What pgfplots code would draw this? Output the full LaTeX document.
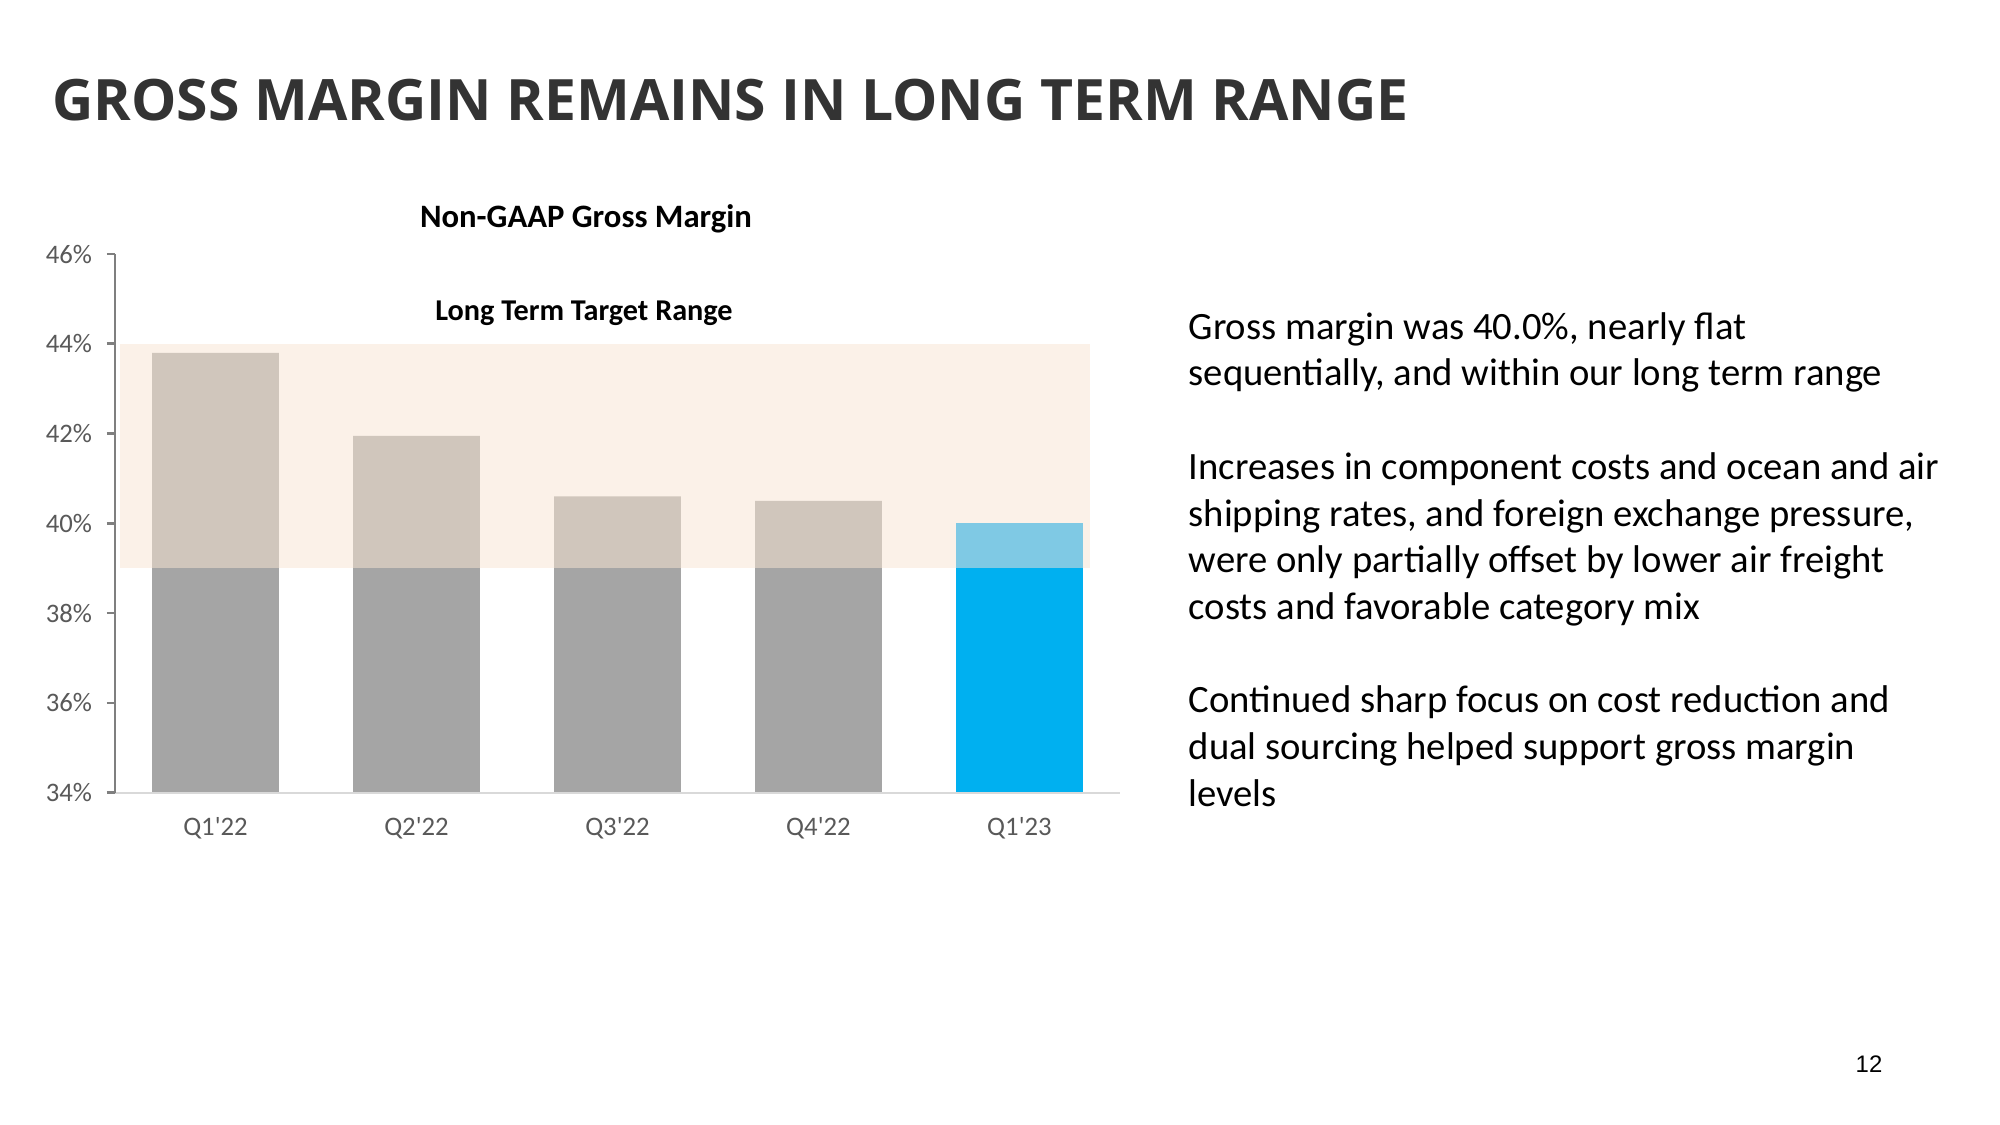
\documentclass[border=0pt]{standalone}
\usepackage{fontspec}
\setmainfont{Carlito}
\newfontfamily\titlefont{Open Sans}
\newfontfamily\arialfont{Liberation Sans}
\usepackage{pgfplots}
\pgfplotsset{compat=1.18}
\definecolor{band}{HTML}{FBF1E8}
\definecolor{tanbar}{HTML}{D0C6BC}
\definecolor{graybar}{HTML}{A5A5A5}
\definecolor{bluebar}{HTML}{00B0F0}
\definecolor{lbluebar}{HTML}{7FC9E4}
\definecolor{yaxis}{HTML}{7F7F7F}
\definecolor{xaxis}{HTML}{D9D9D9}
\definecolor{ticklab}{HTML}{595959}
\definecolor{titlegray}{HTML}{333333}
\begin{document}
\begin{tikzpicture}
\begin{scope}[x=0.1mm,y=-0.1mm]
\fill[white] (0,0) rectangle (2000,1125);
\node[anchor=base west, inner sep=0, text=titlegray, font=\titlefont\bfseries\fontsize{16.24}{20}\selectfont] at (51.7,121) {GROSS MARGIN REMAINS IN LONG TERM RANGE};
\node[anchor=base, inner sep=0, font=\bfseries\fontsize{9.3}{11}\selectfont] at (586,227.3) {Non-GAAP Gross Margin};
\node[anchor=base, inner sep=0, font=\bfseries\fontsize{8.6}{10}\selectfont] at (584,321) {Long Term Target Range};
\node[anchor=base west, inner sep=0, font=\fontsize{11}{13}\selectfont] at (1188,339.3) {Gross margin was 40.0\%, nearly flat};
\node[anchor=base west, inner sep=0, font=\fontsize{11}{13}\selectfont] at (1188,386.0) {sequentially, and within our long term range};
\node[anchor=base west, inner sep=0, font=\fontsize{11}{13}\selectfont] at (1188,479.4) {Increases in component costs and ocean and air};
\node[anchor=base west, inner sep=0, font=\fontsize{11}{13}\selectfont] at (1188,526.1) {shipping rates, and foreign exchange pressure,};
\node[anchor=base west, inner sep=0, font=\fontsize{11}{13}\selectfont] at (1188,572.8) {were only partially offset by lower air freight};
\node[anchor=base west, inner sep=0, font=\fontsize{11}{13}\selectfont] at (1188,619.5) {costs and favorable category mix};
\node[anchor=base west, inner sep=0, font=\fontsize{11}{13}\selectfont] at (1188,712.9) {Continued sharp focus on cost reduction and};
\node[anchor=base west, inner sep=0, font=\fontsize{11}{13}\selectfont] at (1188,759.6) {dual sourcing helped support gross margin};
\node[anchor=base west, inner sep=0, font=\fontsize{11}{13}\selectfont] at (1188,806.3) {levels};
\node[anchor=base east, inner sep=0, font=\arialfont\fontsize{6.8}{8}\selectfont] at (1883,1072) {12};
\end{scope}
\begin{axis}[
  at={(11.5mm,-79.27mm)}, anchor=south west,
  scale only axis, width=100.5mm, height=53.87mm,
  xmin=-0.5, xmax=4.5, ymin=34, ymax=46,
  axis x line*=bottom, axis y line*=left,
  x axis line style={draw=xaxis, line width=0.2mm},
  y axis line style={draw=yaxis, line width=0.27mm},
  xtick={0,1,2,3,4}, xticklabels={Q1\textquotesingle22,Q2\textquotesingle22,Q3\textquotesingle22,Q4\textquotesingle22,Q1\textquotesingle23},
  ytick={34,36,38,40,42,44,46}, yticklabels={34\%,36\%,38\%,40\%,42\%,44\%,46\%},
  tick align=outside,
  major tick length=0.8mm,
  ytick style={draw=yaxis, line width=0.27mm},
  xtick style={draw=none},
  tick label style={text=ticklab},
  yticklabel style={font=\fontsize{7.6}{9}\selectfont, xshift=-0.25mm},
  xticklabel style={font=\fontsize{7.6}{9}\selectfont, yshift=-0.4mm},
  axis on top,
]
\addplot[fill=band, draw=none] coordinates {(-0.475,39) (4.35,39) (4.35,44) (-0.475,44)} -- cycle;
\addplot[ybar, bar width=0.63, bar shift=0pt, fill=tanbar, draw=none] coordinates {(0,43.8) (1,41.95) (2,40.6) (3,40.5)};
\addplot[ybar, bar width=0.63, bar shift=0pt, fill=graybar, draw=none] coordinates {(0,39) (1,39) (2,39) (3,39)};
\addplot[ybar, bar width=0.63, bar shift=0pt, fill=lbluebar, draw=none] coordinates {(4,40.0)};
\addplot[ybar, bar width=0.63, bar shift=0pt, fill=bluebar, draw=none] coordinates {(4,39)};
\end{axis}
\end{tikzpicture}
\end{document}
